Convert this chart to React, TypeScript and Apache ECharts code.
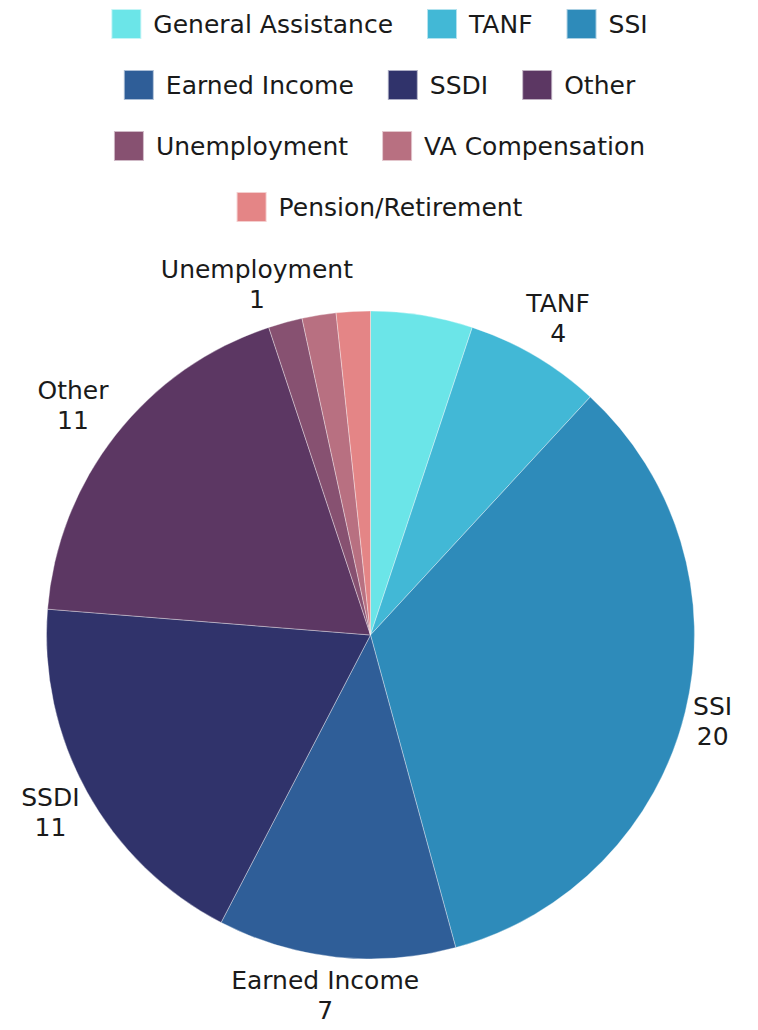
import React, { useEffect, useRef } from "react";
import * as echarts from "echarts";

const categories = [
  "General Assistance",
  "TANF",
  "SSI",
  "Earned Income",
  "SSDI",
  "Other",
  "Unemployment",
  "VA Compensation",
  "Pension/Retirement",
];
const values = [3, 4, 20, 7, 11, 11, 1, 1, 1];
const colors = [
  "#6be5e8",
  "#42b8d6",
  "#2e8bba",
  "#2f5e98",
  "#30336b",
  "#5c3763",
  "#875171",
  "#b87081",
  "#e48586",
];
const labelled = [false, true, true, true, true, true, true, false, false];
const legendRows = [
  ["General Assistance", "TANF", "SSI"],
  ["Earned Income", "SSDI", "Other"],
  ["Unemployment", "VA Compensation"],
  ["Pension/Retirement"],
];

const FONT = "DejaVu Sans";
const CX = 362.5;
const CY = 627;
const R = 324;

export default function App() {
  const ref = useRef<HTMLDivElement>(null);
  useEffect(() => {
    if (!ref.current) return;
    document.documentElement.style.overflow = "hidden";
    const chart = echarts.init(ref.current, null, { renderer: "svg" });
    const total = values.reduce((a, b) => a + b, 0);
    const cum: number[] = [];
    let acc = 0;
    values.forEach((v) => {
      cum.push(acc);
      acc += v;
    });
    const legends = legendRows.map((row, i) => ({
      data: row,
      top: 0 + i * 61,
      left: "center",
      padding: 0,
      itemWidth: 30,
      itemHeight: 30,
      itemGap: 33,
      icon: "rect",
      selectedMode: false,
      textStyle: { fontFamily: FONT, fontSize: 25, color: "#1a1a1a", padding: [0, 0, 0, 7] },
    }));
    chart.setOption({
      animation: false,
      color: colors,
      legend: legends,
      series: [
        {
          type: "pie",
          center: [CX, CY],
          radius: [0, R],
          startAngle: 90,
          clockwise: true,
          avoidLabelOverlap: false,
          itemStyle: { borderColor: "rgba(255,255,255,0.6)", borderWidth: 0.6 },
          emphasis: { disabled: true },
          label: {
            position: "outside",
            formatter: "{b}\n{c}",
            fontFamily: FONT,
            fontSize: 25,
            lineHeight: 30,
            color: "#1a1a1a",
            align: "center",
          },
          labelLine: { show: false },
          labelLayout: (params: any) => {
            const i = params.dataIndex;
            const th = (2 * Math.PI * (cum[i] + values[i] / 2)) / total;
            const vx = Math.sin(th);
            const vy = -Math.cos(th);
            const m = Math.max(Math.abs(vx), Math.abs(vy));
            const w = params.labelRect.width + 8;
            const h = params.labelRect.height + 8;
            const x = CX + R * vx + (w / 2) * (vx / m) + 4 * vx;
            const y = CY + R * vy + (h / 2) * (vy / m) + 4 * vy;
            return { x, y, align: "center", verticalAlign: "middle" };
          },
          data: categories.map((name, i) => ({
            name,
            value: values[i],
            label: { show: labelled[i] },
          })),
        },
      ],
    });
    return () => chart.dispose();
  }, []);
  return <div ref={ref} style={{ width: 742, height: 1022 }} />;
}
